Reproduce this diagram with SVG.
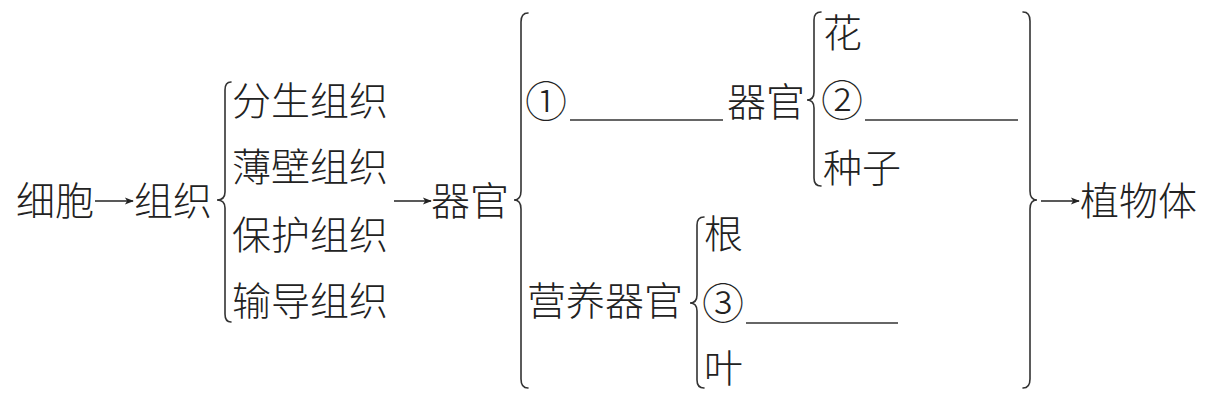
<svg xmlns="http://www.w3.org/2000/svg" width="1227" height="400" viewBox="0 0 1227 400">
<defs>
<style>
text{font-family:"Noto Sans CJK SC","Noto Sans CJK JP",sans-serif;font-size:39px;font-weight:300;fill:#222;}
.num{font-size:42px;}
.brace{fill:none;stroke:#333;stroke-width:1.6;stroke-linecap:round;}
.blank{stroke:#333;stroke-width:1.4;}
.arrow{stroke:#222;stroke-width:1.6;marker-end:url(#ah);}
</style>
<marker id="ah" viewBox="0 0 10 10" refX="9" refY="5" markerWidth="10" markerHeight="9" markerUnits="userSpaceOnUse" orient="auto">
<path d="M0,1 L10,5 L0,9 L2.5,5 Z" fill="#222"/>
</marker>
</defs>
<rect width="1227" height="400" fill="#fff"/>

<g id="cell"><text x="16" y="215">细胞</text></g>
<g id="tissue"><text x="134" y="215">组织</text></g>
<g id="tissues">
<text x="232" y="115">分生组织</text>
<text x="232" y="181">薄壁组织</text>
<text x="232" y="249">保护组织</text>
<text x="232" y="315">输导组织</text>
</g>
<g id="organ"><text x="431" y="215">器官</text></g>
<g id="repro-organ">
<text class="num" x="525" y="117">①</text>
<line class="blank" x1="570" y1="120" x2="723" y2="120"/>
<text x="727" y="116">器官</text>
</g>
<g id="repro-items">
<text x="823" y="47">花</text>
<text class="num" x="821" y="116">②</text>
<line class="blank" x1="865" y1="120" x2="1018" y2="120"/>
<text x="823" y="182">种子</text>
</g>
<g id="veg-organ"><text x="527" y="315">营养器官</text></g>
<g id="veg-items">
<text x="704" y="248">根</text>
<text class="num" x="702" y="319">③</text>
<line class="blank" x1="746" y1="323" x2="898" y2="323"/>
<text x="704" y="382">叶</text>
</g>
<g id="plant"><text x="1080" y="215">植物体</text></g>

<g id="connectors">
<line class="arrow" x1="95" y1="201" x2="133" y2="201"/>
<line class="arrow" x1="394" y1="201" x2="431" y2="201"/>
<line class="arrow" x1="1041" y1="201" x2="1079" y2="201"/>
<path class="brace" d="M231,82 Q225,82 225,90 L225,192 Q225,200 217,200 Q225,200 225,208 L225,314 Q225,322 231,322"/>
<path class="brace" d="M528,13 Q521,13 521,22 L521,191 Q521,200 514,200 Q521,200 521,209 L521,379 Q521,388 528,388"/>
<path class="brace" d="M821,12 Q814,12 814,20 L814,92 Q814,100 807,100 Q814,100 814,108 L814,178 Q814,186 821,186"/>
<path class="brace" d="M704,217 Q697,217 697,225 L697,295 Q697,303 690,303 Q697,303 697,311 L697,380 Q697,388 704,388"/>
<path class="brace" d="M1023,12 Q1030,12 1030,21 L1030,191 Q1030,200 1037,200 Q1030,200 1030,209 L1030,379 Q1030,388 1023,388"/>
</g>
</svg>
